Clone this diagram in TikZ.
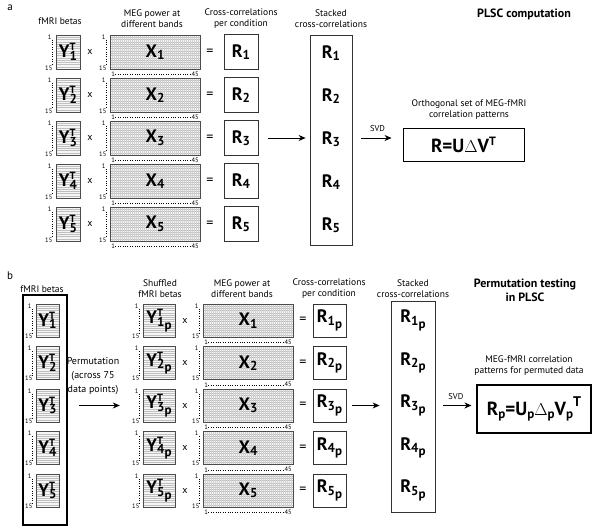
\documentclass[tikz,border=0pt]{standalone}
\usepackage{fontspec}
\setmainfont{PT Sans}
\usetikzlibrary{arrows.meta, positioning, calc}

\newcommand{\matfont}{\bfseries\fontsize{18}{18}\selectfont}
\newcommand{\mysub}[1]{\raisebox{-2.5pt}{\fontsize{13}{13}\selectfont #1}}
\newcommand{\mysup}[1]{\rlap{\raisebox{7pt}{\fontsize{10.5}{10.5}\selectfont #1}}}
\newcommand{\psub}[1]{\mysub{#1\raisebox{-3pt}{p}}}

\tikzset{
  panel/.style={font=\fontsize{11}{11}\selectfont, inner sep=0pt},
  head/.style={font=\fontsize{9.5}{11}\selectfont, align=center, inner sep=0pt},
  title/.style={font=\bfseries\fontsize{12}{14}\selectfont, align=center, inner sep=0pt},
  tick/.style={font=\fontsize{6.5}{6.5}\selectfont, inner sep=0.3pt},
  op/.style={font=\fontsize{10}{10}\selectfont, inner sep=0pt},
  eq/.style={font=\fontsize{14}{14}\selectfont, inner sep=0pt},
  svd/.style={font=\fontsize{8.5}{9}\selectfont, inner sep=0pt},
  hatch/.style={gray!50, line width=0.25pt},
  ymat/.style={draw=black!70, fill=gray!8, inner sep=0pt, font=\matfont,
    path picture={
      \foreach \k in {1,...,14}
        \draw[hatch] ($(path picture bounding box.north west)!\k/15!(path picture bounding box.south west)$)
          -- ($(path picture bounding box.north east)!\k/15!(path picture bounding box.south east)$);
    }},
  xmat/.style={ymat,
    path picture={
      \foreach \k in {1,...,14}
        \draw[hatch] ($(path picture bounding box.north west)!\k/15!(path picture bounding box.south west)$)
          -- ($(path picture bounding box.north east)!\k/15!(path picture bounding box.south east)$);
      \foreach \k in {1,...,44}
        \draw[hatch, gray!35] ($(path picture bounding box.north west)!\k/45!(path picture bounding box.north east)$)
          -- ($(path picture bounding box.south west)!\k/45!(path picture bounding box.south east)$);
    }},
  rbox/.style={draw=black!80, line width=0.8pt, font=\matfont, inner sep=0pt},
  rlab/.style={font=\matfont, inner sep=0pt},
  stackbox/.style={draw=black!80, line width=0.8pt, inner sep=0pt},
  res/.style={draw, line width=0.9pt, font=\bfseries\fontsize{19}{19}\selectfont, inner sep=0pt},
  arr/.style={-{Stealth[length=7pt,width=6pt]}, line width=0.8pt},
}

\begin{document}
\begin{tikzpicture}[x=1pt, y=-1pt]
\useasboundingbox (0,0) rectangle (600,531);

% ---------------- panel a ----------------
\node[panel] (pa) at (10,8) {a};
\node[head] (hya) at (60,21) {fMRI betas};
\node[head] (hxa) at (152,19) {MEG power at\\different bands};
\node[head] (hra) at (241,19) {Cross-correlations\\per condition};
\node[head] (hsa) at (331,19) {Stacked\\cross-correlations};
\node[title] (ta) at (524,14) {PLSC computation};

% stacked box and result
\node[stackbox, minimum width=42pt, minimum height=210pt] (stacka) at (331,140) {};
\node[res, minimum width=121pt, minimum height=33pt] (resa) at (463.5,144.5)
  {R=U$\Delta$V\raisebox{7pt}{\fontsize{12}{12}\selectfont T}};
\node[head] (ora) at (469,110) {Orthogonal set of MEG-fMRI\\correlation patterns};

% rows
\foreach \i in {1,...,5}{
  \pgfmathsetmacro{\yy}{52+43*(\i-1)}
  \node[ymat, minimum width=24pt, minimum height=34pt] (ya\i) at (68,\yy) {Y\mysup{T}\mysub{\i}};
  \node[xmat, minimum width=90pt, minimum height=34pt] (xa\i) at (155,\yy) {X\mysub{\i}};
  \node[rbox, minimum width=34pt, minimum height=35pt] (ra\i) at (241,\yy) {R\mysub{\i}};
  \node[op] (timesa\i) at (90,\yy) {x};
  \node[eq] (eqa\i) at (210,\yy) {=};
  \node[rlab] (sa\i) at (331,\yy+1) {R\mysub{\i}};
  % ticks
  \node[tick, anchor=east] (tya\i) at ([xshift=-4pt,yshift=-2pt]ya\i.north west) {1};
  \node[tick, anchor=east] (bya\i) at ([xshift=-3pt,yshift=1pt]ya\i.south west) {15};
  \draw[dotted] ([xshift=0.5pt]tya\i.south east) -- ([xshift=-0.5pt]bya\i.north east);
  \node[tick, anchor=east] (txa\i) at ([xshift=-4pt,yshift=-2pt]xa\i.north west) {1};
  \node[tick, anchor=east] (bxa\i) at ([xshift=-3pt,yshift=1pt]xa\i.south west) {15};
  \draw[dotted] ([xshift=0.5pt]txa\i.south east) -- ([xshift=-0.5pt]bxa\i.north east);
  \node[tick, anchor=west] (lxa\i) at ([xshift=1pt,yshift=-5pt]xa\i.south west) {1};
  \node[tick, anchor=east] (rxa\i) at ([xshift=-1pt,yshift=-5pt]xa\i.south east) {45};
  \draw[dotted] (lxa\i) -- (rxa\i);
}

% arrows
\draw[arr, shorten <=10pt, shorten >=4pt] (ra3.east) -- (ra3.east -| stacka.west);
\draw[arr, shorten <=9pt, shorten >=11pt] (stacka.east |- ra3.east) -- (ra3.east -| resa.west)
  node[midway, above=6pt, svd] (svda) {SVD};

% ---------------- panel b ----------------
\node[panel] (pb) at (10,276) {b};
\node[head] (hyb) at (42,289) {fMRI betas};
\node[head] (hpb) at (160,289) {Shuffled\\fMRI betas};
\node[head] (hxb) at (242,289) {MEG power at\\different bands};
\node[head] (hrb) at (329,289) {Cross-correlations\\per condition};
\node[head] (hsb) at (413,289) {Stacked\\cross-correlations};
\node[title] (tb) at (525,290) {Permutation testing\\in PLSC};

\node[stackbox, line width=1.1pt, draw=black, minimum width=44pt, minimum height=230pt] (stackbl) at (45,410) {};
\node[stackbox, minimum width=44pt, minimum height=211pt] (stackb) at (413,406.5) {};
\node[res, line width=1.1pt, minimum width=114pt, minimum height=48pt] (resb) at (534,409)
  {R\mysub{p}=U\mysub{p}$\Delta$\mysub{p}V\mysub{p}\raisebox{9pt}{\fontsize{14}{14}\selectfont T}};
\node[head] (orb) at (529,366) {MEG-fMRI correlation\\patterns for permuted data};

\foreach \i in {1,...,5}{
  \pgfmathsetmacro{\yy}{320.5+42.5*(\i-1)}
  \node[ymat, minimum width=23pt, minimum height=33pt] (yb\i) at (47.5,\yy) {Y\mysup{T}\mysub{\i}};
  \node[ymat, minimum width=32pt, minimum height=33pt] (ypb\i) at (159,\yy) {Y\mysup{T}\psub{\i}};
  \node[xmat, minimum width=90pt, minimum height=33pt] (xb\i) at (248,\yy) {X\mysub{\i}};
  \node[rbox, minimum width=33pt, minimum height=33pt] (rb\i) at (329.5,\yy) {R\psub{\i}};
  \node[op] (timesb\i) at (185,\yy) {x};
  \node[eq] (eqb\i) at (303,\yy) {=};
  \node[rlab] (sb\i) at (413,\yy) {R\psub{\i}};
  % ticks
  \node[tick, anchor=east] (tyb\i) at ([xshift=-4pt,yshift=-2pt]yb\i.north west) {1};
  \node[tick, anchor=east] (byb\i) at ([xshift=-3pt,yshift=1pt]yb\i.south west) {15};
  \draw[dotted] ([xshift=0.5pt]tyb\i.south east) -- ([xshift=-0.5pt]byb\i.north east);
  \node[tick, anchor=east] (typb\i) at ([xshift=-4pt,yshift=-2pt]ypb\i.north west) {1};
  \node[tick, anchor=east] (bypb\i) at ([xshift=-3pt,yshift=1pt]ypb\i.south west) {15};
  \draw[dotted] ([xshift=0.5pt]typb\i.south east) -- ([xshift=-0.5pt]bypb\i.north east);
  \node[tick, anchor=east] (txb\i) at ([xshift=-4pt,yshift=-2pt]xb\i.north west) {1};
  \node[tick, anchor=east] (bxb\i) at ([xshift=-3pt,yshift=1pt]xb\i.south west) {15};
  \draw[dotted] ([xshift=0.5pt]txb\i.south east) -- ([xshift=-0.5pt]bxb\i.north east);
  \node[tick, anchor=west] (lxb\i) at ([xshift=1pt,yshift=-5pt]xb\i.south west) {1};
  \node[tick, anchor=east] (rxb\i) at ([xshift=-1pt,yshift=-5pt]xb\i.south east) {45};
  \draw[dotted] (lxb\i) -- (rxb\i);
}

% arrows
\node[font=\fontsize{10}{14}\selectfont, align=center, inner sep=0pt] (perm) at (93,376)
  {Permutation\\(across 75\\data points)};
\draw[arr, shorten <=11pt, shorten >=23pt] (stackbl.east |- ypb3.west) -- (ypb3.west);
\draw[arr, shorten <=6pt, shorten >=11pt] (rb3.east) -- (rb3.east -| stackb.west);
\draw[arr, shorten <=8pt, shorten >=5pt] (stackb.east |- rb3.east) -- (rb3.east -| resb.west)
  node[midway, above=6pt, svd] (svdb) {SVD};
\end{tikzpicture}
\end{document}
